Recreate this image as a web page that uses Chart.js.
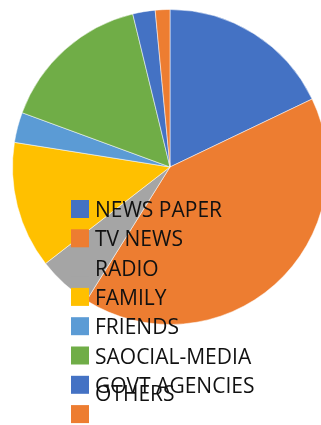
<!DOCTYPE html>
<html>
<head>
<meta charset="utf-8">
<script src="https://cdn.jsdelivr.net/npm/chart.js@4/dist/chart.umd.min.js"></script>
<style>
  html, body { margin: 0; padding: 0; background: #ffffff; overflow: hidden; }
  #wrap { width: 321px; height: 425px; overflow: hidden; position: relative; }
  canvas { display: block; }
</style>
</head>
<body>
<div id="wrap">
  <canvas id="source-chart" width="340" height="425"></canvas>
</div>
<script>
// Sources d'information (part en %)
const categories = ['NEWS PAPER', 'TV NEWS', 'RADIO', 'FAMILY', 'FRIENDS', 'SAOCIAL-MEDIA', 'GOVT AGENCIES', 'OTHERS'];
const shares = [17.9, 41.0, 5.6, 13.0, 3.1, 15.6, 2.3, 1.5];
const sliceColors = ['#4472C4', '#ED7D31', '#A5A5A5', '#FFC000', '#5B9BD5', '#70AD47', '#4472C4', '#ED7D31'];

// Légende dessinée par-dessus le camembert, en colonne
const overlayLegend = {
    id: 'overlayLegend',
    afterDraw(chart, args, opts) {
        const ctx = chart.ctx;
        const labels = chart.data.labels;
        const colors = chart.data.datasets[0].backgroundColor;
        ctx.save();
        ctx.font = opts.font;
        ctx.fillStyle = opts.color;
        ctx.textBaseline = 'alphabetic';
        labels.forEach((label, i) => {
            const top = opts.top + i * opts.rowHeight;
            ctx.fillStyle = colors[i];
            ctx.fillRect(opts.left, top, opts.box, opts.box);
            ctx.fillStyle = opts.color;
            const shift = (opts.textShift && opts.textShift[i]) || 0;
            ctx.fillText(label, opts.left + opts.box + 6, top + opts.baseline + shift);
        });
        ctx.restore();
    }
};

const ctx = document.getElementById('source-chart');
new Chart(ctx, {
    type: 'pie',
    data: {
        labels: categories,
        datasets: [{
            data: shares,
            backgroundColor: sliceColors,
            borderColor: 'rgba(255, 255, 255, 0.5)',
            borderWidth: 1
        }]
    },
    options: {
        responsive: false,
        animation: false,
        layout: {
            padding: { top: 9, left: 12, right: 12, bottom: 100 }
        },
        plugins: {
            legend: { display: false },
            tooltip: { enabled: false },
            overlayLegend: {
                left: 71,
                top: 200,
                box: 18,
                rowHeight: 29.3,
                baseline: 17,
                font: '21px "Open Sans"',
                color: '#111111',
                textShift: { 7: -21.5 }
            }
        }
    },
    plugins: [overlayLegend]
});
</script>
</body>
</html>
